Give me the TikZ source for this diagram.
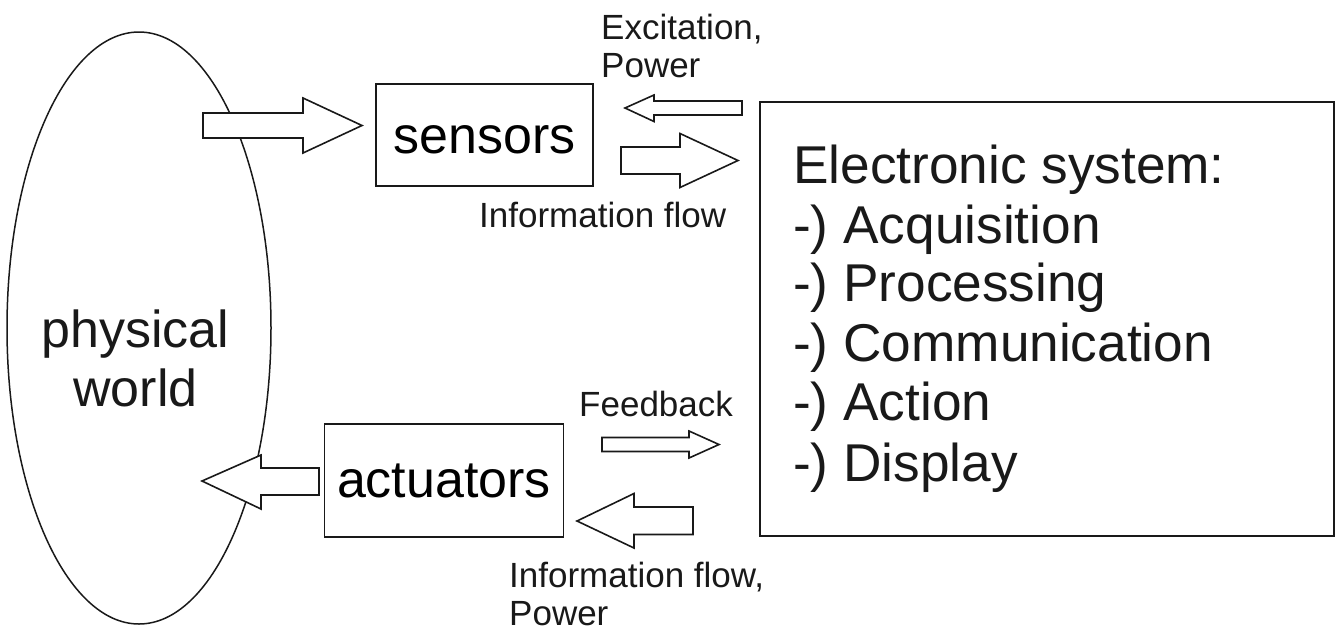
\documentclass[tikz,border=0pt]{standalone}
\usepackage{fontspec}
\setmainfont{Liberation Sans}
\usetikzlibrary{shapes.geometric}
\tikzset{
  boxnode/.style={draw=black!90,line width=1.8pt,rectangle,inner sep=0pt,font=\fontsize{52}{59}\selectfont},
  bigtext/.style={inner sep=0pt,font=\fontsize{52}{59}\selectfont,text=black!90},
  listtext/.style={inner sep=0pt,anchor=base west,font=\fontsize{53.2}{59}\selectfont,text=black!90},
  smalltext/.style={inner sep=0pt,anchor=base west,font=\fontsize{35}{38}\selectfont,text=black!90},
  blockarrow/.style={draw=black!90,fill=white,line width=1.6pt,line join=miter}
}
\begin{document}
\begin{tikzpicture}[x=1pt,y=-1pt]
\useasboundingbox (0,0) rectangle (1335,630);
% physical world
\node[draw=black!90,line width=1.5pt,ellipse,inner sep=0pt,minimum width=264pt,minimum height=592pt] (world) at (139,328) {};
\node[bigtext,anchor=base] (phys) at (135.5,347.5) {physical};
\node[bigtext,anchor=base] (wrld) at (135.5,406.5) {world};
% sensors and actuators
\node[boxnode,minimum width=217pt,minimum height=102pt,text height=36pt,text depth=0pt] (sensors) at (484.5,135) {sensors};
\node[boxnode,minimum width=239pt,minimum height=113pt,text height=33pt,text depth=0pt] (actuators) at (444,480.5) {actuators};
% electronic system
\node[boxnode,minimum width=574pt,minimum height=434pt] (esys) at (1047,319) {};
\node[listtext] (l0) at (793,183) {Electronic system:};
\node[listtext] (l1) at (793,243) {-) Acquisition};
\node[listtext] (l2) at (793,301) {-) Processing};
\node[listtext] (l3) at (793,361) {-) Communication};
\node[listtext] (l4) at (793,420) {-) Action};
\node[listtext] (l5) at (793,481) {-) Display};
% block arrows
\draw[blockarrow] (203,113) -- (303,113) -- (303,98) -- (362,125.5) -- (303,153) -- (303,138) -- (203,138) -- cycle;
\draw[blockarrow] (742,101) -- (654,101) -- (654,95) -- (625,108) -- (654,121.5) -- (654,115) -- (742,115) -- cycle;
\draw[blockarrow] (621,147) -- (680,147) -- (680,133.5) -- (738,160.5) -- (680,187.5) -- (680,174) -- (621,174) -- cycle;
\draw[blockarrow] (602,437.5) -- (689,437.5) -- (689,431) -- (719,444.5) -- (689,458) -- (689,451.5) -- (602,451.5) -- cycle;
\draw[blockarrow] (693,507) -- (634,507) -- (634,493.5) -- (577,521) -- (634,548) -- (634,534.5) -- (693,534.5) -- cycle;
\draw[blockarrow] (319,468) -- (261,468) -- (261,455) -- (202,481) -- (261,509) -- (261,495) -- (319,495) -- cycle;
% labels
\node[smalltext] (exc) at (601,39) {Excitation,};
\node[smalltext] (pow1) at (601,77) {Power};
\node[smalltext] (inf1) at (479,227) {Information flow};
\node[smalltext] (fb) at (579,416) {Feedback};
\node[smalltext] (inf2) at (509,587) {Information flow,};
\node[smalltext] (pow2) at (509,625) {Power};
\end{tikzpicture}
\end{document}
